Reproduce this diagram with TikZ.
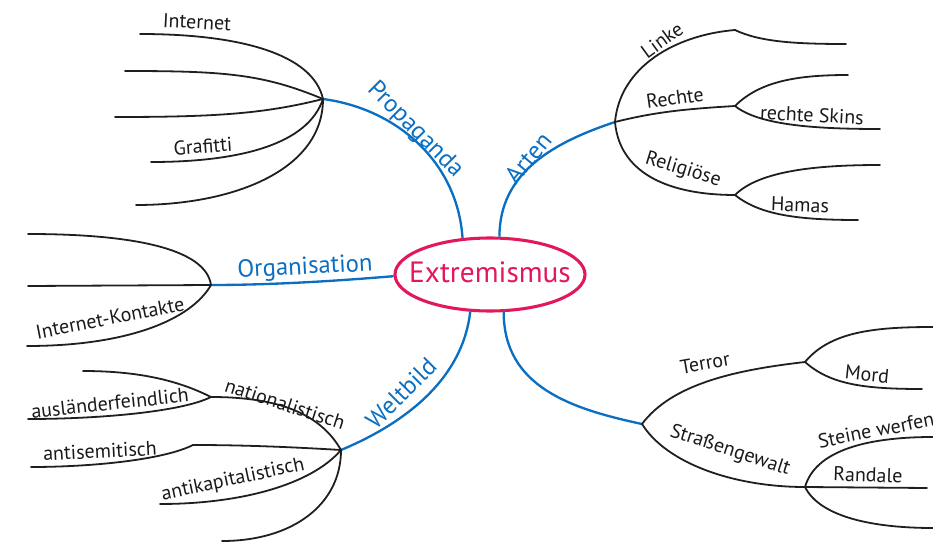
\documentclass[tikz,border=0pt]{standalone}
\usepackage{fontspec}
\setmainfont{PT Sans}
\usetikzlibrary{shapes.geometric}
\definecolor{mapblue}{HTML}{0A6FC2}
\definecolor{mapred}{HTML}{E3175B}
\begin{document}
\begin{tikzpicture}[x=0.75pt,y=0.75pt,
  twig/.style={draw=black!88, line width=1.35pt, line cap=round},
  limb/.style={draw=mapblue, line width=1.75pt},
  leaf/.style={font=\fontsize{15}{15}\selectfont, text=black!90, inner sep=0pt},
  limbtext/.style={font=\fontsize{18.5}{18.5}\selectfont, text=mapblue, inner sep=0pt}]
\useasboundingbox (0,0) rectangle (933,-542);
\clip (0,0) rectangle (933,-542);

% central topic
\node[ellipse, draw=mapred, line width=2.3pt, minimum width=142.5pt,
      minimum height=54.75pt, inner sep=0pt] (core) at (490,-274.5) {};
\node[font=\fontsize{22}{22}\selectfont, text=mapred] (title) at (490,-272) {Extremismus};

% hubs of the main branches
\coordinate (P) at (323,-99);
\coordinate (A) at (615,-122);
\coordinate (O) at (211,-285);
\coordinate (W) at (341,-450);
\coordinate (B) at (642,-424);

% main branches
\draw[limb] (core.127) .. controls +(-5,75) and +(75,-10) .. (P);
\draw[limb] (core.76)  .. controls +(0,65) and +(-60,-20) .. (A);
\draw[limb] (core.181) .. controls +(-60,-5) and +(60,0) .. (O);
\draw[limb] (core.242) .. controls +(-8,-70) and +(60,25) .. (W);
\draw[limb] (core.290) .. controls +(0,-75) and +(-70,15) .. (B);

\node[limbtext, rotate=-45] (tprop) at (415,-130) {Propaganda};
\node[limbtext, rotate=50]  (tart)  at (528,-158) {Arten};
\node[limbtext, rotate=3]   (torg)  at (305,-268) {Organisation};
\node[limbtext, rotate=45]  (twelt) at (401,-393) {Weltbild};

% Propaganda
\coordinate (p1) at (140,-34);
\coordinate (p2) at (125,-71);
\coordinate (p3) at (115,-117);
\coordinate (p4) at (151,-162);
\coordinate (p5) at (136,-205);
\draw[twig] (P) .. controls +(-10,45) and +(100,0) .. (p1);
\draw[twig] (P) .. controls +(-60,25) and +(100,0) .. (p2);
\draw[twig] (P) .. controls +(-60,-15) and +(100,0) .. (p3);
\draw[twig] (P) .. controls +(-15,-45) and +(90,0) .. (p4);
\draw[twig] (P) .. controls +(0,-70) and +(100,0) .. (p5);
\node[leaf, rotate=-3] (lint) at (197,-22) {Internet};
\node[leaf, rotate=4]  (lgraf) at (203,-146) {Grafitti};

% Organisation
\coordinate (o1) at (28,-234);
\coordinate (o2) at (28,-286);
\coordinate (o3) at (27,-346);
\draw[twig] (O) .. controls +(-5,35) and +(110,0) .. (o1);
\draw[twig] (O) -- (o2);
\draw[twig] (O) .. controls +(-20,-35) and +(100,0) .. (o3);
\node[leaf, rotate=11] (lkont) at (110,-318) {Internet-Kontakte};

% Weltbild
\coordinate (N) at (211,-397);
\coordinate (n1) at (83,-371);
\coordinate (n2) at (28,-419);
\coordinate (K) at (193,-445);
\coordinate (k1) at (31,-467);
\coordinate (w3) at (160,-504);
\coordinate (w4) at (222,-541);
\draw[twig] (W) .. controls +(-20,35) and +(70,0) .. (N);
\draw[twig] (N) .. controls +(-30,15) and +(60,0) .. (n1);
\draw[twig] (N) .. controls +(-30,-15) and +(70,0) .. (n2);
\draw[twig] (W) .. controls +(-50,3) and +(50,0) .. (K);
\draw[twig] (K) .. controls +(-30,-15) and +(60,0) .. (k1);
\draw[twig] (W) .. controls +(-30,-35) and +(80,0) .. (w3);
\draw[twig] (W) .. controls +(0,-55) and +(70,0) .. (w4);
\node[leaf, rotate=-18] (lnat) at (285,-404) {nationalistisch};
\node[leaf, rotate=6]   (laus) at (110,-403) {ausländerfeindlich};
\node[leaf, rotate=3]   (lsem) at (100,-451) {antisemitisch};
\node[leaf, rotate=12]  (lkap) at (233,-480) {antikapitalistisch};

% Arten
\coordinate (L) at (735,-30);
\coordinate (l1) at (846,-44);
\coordinate (R) at (735,-106);
\coordinate (r1) at (848,-75);
\coordinate (r2) at (880,-129);
\coordinate (G) at (735,-195);
\coordinate (g1) at (880,-165);
\coordinate (g2) at (858,-220);
\draw[twig] (A) .. controls +(5,55) and +(-60,-5) .. (L);
\draw[twig] (L) .. controls +(25,-12) and +(-50,0) .. (l1);
\draw[twig] (A) .. controls +(40,10) and +(-50,-3) .. (R);
\draw[twig] (R) .. controls +(25,25) and +(-50,0) .. (r1);
\draw[twig] (R) .. controls +(25,-20) and +(-60,0) .. (r2);
\draw[twig] (A) .. controls +(5,-55) and +(-60,0) .. (G);
\draw[twig] (G) .. controls +(25,25) and +(-60,0) .. (g1);
\draw[twig] (G) .. controls +(25,-20) and +(-60,0) .. (g2);
\node[leaf, rotate=36]  (llinke) at (662,-40) {Linke};
\node[leaf, rotate=8]   (lrecht) at (675,-98) {Rechte};
\node[leaf, rotate=-3]  (lskins) at (812,-115) {rechte Skins};
\node[leaf, rotate=-17] (lrel)   at (683,-170) {Religiöse};
\node[leaf, rotate=-2]  (lhamas) at (800,-205) {Hamas};

% forms of violence
\coordinate (T) at (805,-362);
\coordinate (t1) at (933,-327);
\coordinate (t2) at (922,-389);
\coordinate (S) at (805,-487);
\coordinate (s1) at (933,-437);
\coordinate (s2) at (927,-488);
\coordinate (s3) at (933,-528);
\draw[twig] (B) .. controls +(30,40) and +(-70,-8) .. (T);
\draw[twig] (T) .. controls +(25,30) and +(-60,0) .. (t1);
\draw[twig] (T) .. controls +(25,-22) and +(-60,0) .. (t2);
\draw[twig] (B) .. controls +(25,-40) and +(-70,0) .. (S);
\draw[twig] (S) .. controls +(10,35) and +(-70,0) .. (s1);
\draw[twig] (S) -- (s2);
\draw[twig] (S) .. controls +(15,-30) and +(-60,0) .. (s3);
\node[leaf, rotate=10]  (lterror) at (705,-363) {Terror};
\node[leaf, rotate=-6]  (lmord)   at (867,-374) {Mord};
\node[leaf, rotate=-18] (lstr)    at (730,-451) {Straßengewalt};
\node[leaf, rotate=11]  (lstein)  at (876,-430) {Steine werfen};
\node[leaf, rotate=-2]  (lrand)   at (868,-475) {Randale};
\end{tikzpicture}
\end{document}
